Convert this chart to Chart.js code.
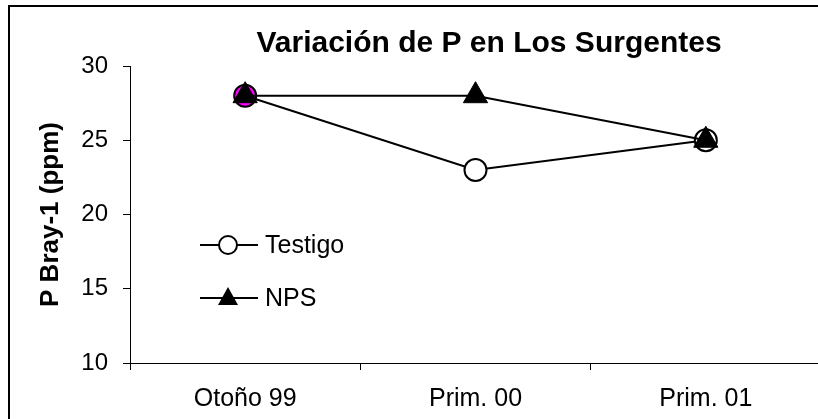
<!DOCTYPE html>
<html>
<head>
<meta charset="utf-8">
<script src="https://cdn.jsdelivr.net/npm/chart.js@4/dist/chart.umd.min.js"></script>
<style>
  html, body { margin: 0; padding: 0; background: #fff; overflow: hidden; }
  #frame { position: absolute; left: 8px; top: 5px; width: 900px; height: 500px; border: 2px solid #000; }
  #chart { position: absolute; left: 0; top: 0; width: 836px; height: 419px; }
</style>
</head>
<body>
<div id="frame"></div>
<canvas id="chart" width="836" height="419"></canvas>
<script>
const titleText = 'Variación de P en Los Surgentes';
const yTitle = 'P Bray-1 (ppm)';
const categories = ['Otoño 99', 'Prim. 00', 'Prim. 01'];
const testigo = [28, 23, 25];
const nps = [28, 28, 25];
const testigoFill = ['#ff00ff', '#ffffff', '#ffffff'];

const FONT = "'Liberation Sans', Arial, sans-serif";

// title drawn by hand so it can sit off-centre like the original
const titlePlugin = {
  id: 'offTitle',
  afterDraw(chart) {
    const ctx = chart.ctx;
    ctx.save();
    ctx.font = 'bold 30px ' + FONT;
    ctx.fillStyle = '#000';
    ctx.textAlign = 'center';
    ctx.textBaseline = 'alphabetic';
    ctx.fillText(titleText, 489, 52);
    ctx.restore();
  }
};

// legend inside the plot, line through marker
const legendPlugin = {
  id: 'innerLegend',
  afterDraw(chart) {
    const ctx = chart.ctx;
    const rows = [
      { label: 'Testigo', style: 'circle', y: 245 },
      { label: 'NPS', style: 'triangle', y: 298 }
    ];
    ctx.save();
    rows.forEach(r => {
      ctx.strokeStyle = '#000';
      ctx.lineWidth = 2;
      ctx.beginPath();
      ctx.moveTo(200, r.y);
      ctx.lineTo(258, r.y);
      ctx.stroke();
      ctx.beginPath();
      if (r.style === 'circle') {
        ctx.arc(228, r.y, 9, 0, Math.PI * 2);
        ctx.fillStyle = '#fff';
        ctx.fill();
        ctx.stroke();
      } else {
        ctx.moveTo(228, r.y - 11);
        ctx.lineTo(238, r.y + 7);
        ctx.lineTo(218, r.y + 7);
        ctx.closePath();
        ctx.fillStyle = '#000';
        ctx.fill();
      }
      ctx.fillStyle = '#000';
      ctx.font = '25px ' + FONT;
      ctx.textAlign = 'left';
      ctx.textBaseline = 'middle';
      ctx.fillText(r.label, 265, r.y + 1);
    });
    ctx.restore();
  }
};

new Chart(document.getElementById('chart'), {
  type: 'line',
  data: {
    labels: categories,
    datasets: [
      {
        label: 'Testigo',
        data: testigo,
        order: 1,
        borderColor: '#000',
        borderWidth: 2,
        pointStyle: 'circle',
        pointRadius: 11,
        pointBorderWidth: 2,
        pointBorderColor: '#000',
        pointBackgroundColor: testigoFill,
        tension: 0
      },
      {
        label: 'NPS',
        data: nps,
        order: 0,
        borderColor: '#000',
        borderWidth: 2,
        pointStyle: 'triangle',
        pointRadius: 14,
        pointBorderWidth: 1,
        pointBorderColor: '#000',
        pointBackgroundColor: '#000',
        tension: 0
      }
    ]
  },
  options: {
    responsive: false,
    animation: false,
    devicePixelRatio: 1,
    layout: { padding: { top: 66, right: 0, left: 0, bottom: 0 } },
    plugins: {
      legend: { display: false },
      title: { display: false },
      tooltip: { enabled: false }
    },
    scales: {
      x: {
        offset: true,
        afterFit(scale) { scale.height = 56; },
        grid: { offset: true, drawOnChartArea: false, drawTicks: true, tickLength: 7, color: '#000' },
        border: { display: true, color: '#000', width: 1 },
        ticks: { color: '#000', font: { family: FONT, size: 25 }, padding: 14, maxRotation: 0 }
      },
      y: {
        min: 10,
        max: 30,
        afterFit(scale) { scale.width = 130; },
        ticks: { stepSize: 5, color: '#000', font: { family: FONT, size: 24 }, padding: 15 },
        grid: { drawOnChartArea: false, drawTicks: true, tickLength: 7, color: '#000' },
        border: { display: true, color: '#000', width: 1 },
        title: {
          display: true,
          text: yTitle,
          color: '#000',
          font: { family: FONT, size: 26, weight: 'bold' },
          padding: { top: 35, bottom: 0 }
        }
      }
    }
  },
  plugins: [titlePlugin, legendPlugin]
});
</script>
</body>
</html>
